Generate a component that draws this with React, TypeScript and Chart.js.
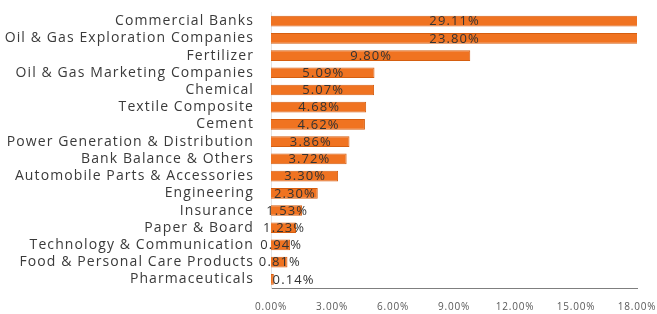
import React, { useEffect, useRef } from "react";
import { Chart, registerables } from "chart.js";

Chart.register(...registerables);

const categories = [
  "Commercial Banks",
  "Oil & Gas Exploration Companies",
  "Fertilizer",
  "Oil & Gas Marketing Companies",
  "Chemical",
  "Textile Composite",
  "Cement",
  "Power Generation & Distribution",
  "Bank Balance & Others",
  "Automobile Parts & Accessories",
  "Engineering",
  "Insurance",
  "Paper & Board",
  "Technology & Communication",
  "Food & Personal Care Products",
  "Pharmaceuticals",
];

const values = [29.11, 23.8, 9.8, 5.09, 5.07, 4.68, 4.62, 3.86, 3.72, 3.3, 2.3, 1.53, 1.23, 0.94, 0.81, 0.14];

const xTicks = [0, 3, 6, 9, 12, 15, 18];

const FONT = "'Open Sans', Lato, sans-serif";

function patchLabels(scale: any, spacing: string) {
  if (!scale || scale.__patched) return;
  const orig = scale.drawLabels;
  scale.drawLabels = function (area: any) {
    const c = this.ctx;
    c.save();
    c.letterSpacing = spacing;
    orig.call(this, area);
    c.restore();
  };
  scale.__patched = true;
}

const labelPlugin = {
  id: "barLabels",
  beforeDraw(chart: any) {
    patchLabels(chart.scales.x, "0.8px");
    patchLabels(chart.scales.y, "1.1px");
  },
  afterDatasetsDraw(chart: any) {
    const { ctx, chartArea } = chart;
    const xScale = chart.scales.x;
    const meta = chart.getDatasetMeta(0);
    ctx.save();
    ctx.font = `13px ${FONT}`;
    ctx.letterSpacing = "1.1px";
    ctx.fillStyle = "#333333";
    ctx.textAlign = "center";
    ctx.textBaseline = "middle";
    meta.data.forEach((bar: any, i: number) => {
      const v = values[i];
      const text = v.toFixed(2) + "%";
      const x0 = xScale.getPixelForValue(0);
      const x1 = Math.min(xScale.getPixelForValue(Math.min(v, xScale.max)), chartArea.right);
      let cx = (x0 + x1) / 2;
      if (x1 - x0 < 5) {
        cx = x0 + ctx.measureText(text).width / 2 + 1;
      }
      ctx.fillText(text, cx + 0.6, bar.y + 0.5);
    });
    ctx.restore();
  },
};

export default function App() {
  const ref = useRef<HTMLCanvasElement | null>(null);
  useEffect(() => {
    document.body.style.margin = "0";
    const chart = new Chart(ref.current!, {
      type: "bar",
      data: {
        labels: categories,
        datasets: [
          {
            data: values,
            backgroundColor: "#F07321",
            borderColor: "#D55E10",
            borderWidth: 1,
            categoryPercentage: 0.62,
            barPercentage: 1,
          },
        ],
      },
      options: {
        indexAxis: "y",
        animation: false,
        responsive: false,
        maintainAspectRatio: false,
        layout: { padding: { top: 12.5, right: 20, left: 0, bottom: 0 } },
        plugins: { legend: { display: false }, tooltip: { enabled: false } },
        scales: {
          x: {
            min: 0,
            max: 18,
            afterBuildTicks: (s: any) => {
              s.ticks = xTicks.map((v) => ({ value: v }));
            },
            afterFit: (s: any) => {
              s.height = 26;
              s.paddingLeft = 0;
              s.paddingRight = 0;
            },
            grid: { display: false, drawTicks: false },
            border: { display: true, color: "#7F7F7F", width: 1 },
            ticks: {
              color: "#595959",
              font: { family: FONT, size: 10 },
              padding: 13,
              callback: (v: any) => Number(v).toFixed(2) + "%",
            },
          },
          y: {
            afterFit: (s: any) => {
              s.width = 271;
              s.paddingTop = 0;
              s.paddingBottom = 0;
            },
            grid: { display: false, drawTicks: false },
            border: { display: true, color: "#E3E3E3", width: 1 },
            ticks: {
              color: "#3A3A3A",
              font: { family: FONT, size: 14 },
              padding: 17,
              autoSkip: false,
            },
          },
        },
      },
      plugins: [labelPlugin],
    });
    return () => chart.destroy();
  }, []);
  return (
    <div style={{ position: "absolute", left: 0, top: 0, width: 657, height: 314, background: "#fff" }}>
      <canvas ref={ref} width={657} height={314} />
    </div>
  );
}
